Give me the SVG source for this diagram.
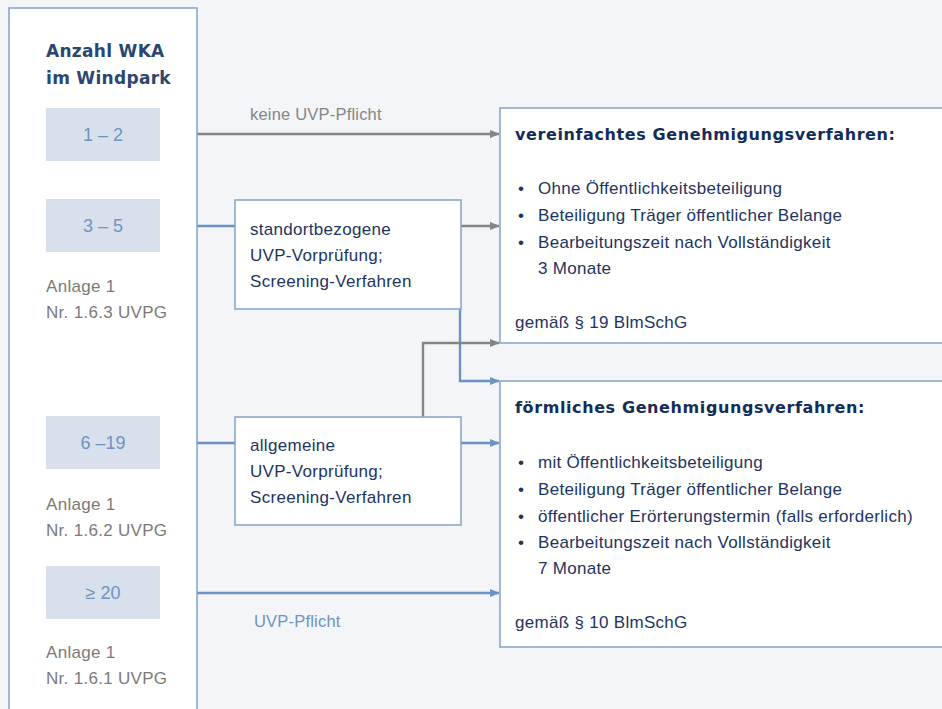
<svg xmlns="http://www.w3.org/2000/svg" width="942" height="709" viewBox="0 0 942 709">
<defs>
<marker id="ag" markerWidth="10" markerHeight="8" refX="9" refY="4" orient="auto" markerUnits="userSpaceOnUse"><path d="M0,0 L10,4 L0,8 z" fill="#858585"/></marker>
<marker id="ab" markerWidth="10" markerHeight="8" refX="9" refY="4" orient="auto" markerUnits="userSpaceOnUse"><path d="M0,0 L10,4 L0,8 z" fill="#6b93c3"/></marker>
<style>
text{font-family:"Liberation Sans",Arial,sans-serif}
.panel{fill:#ffffff;stroke:#8aa7cc;stroke-width:1.6}
.num{fill:#d8e0ec}
.numt{fill:#6f93c2;font-size:18px;text-anchor:middle}
.ref{fill:#7a7a7a;font-size:17px;letter-spacing:0.3px}
.head{fill:#2b4670;font-family:"DejaVu Sans",sans-serif;font-size:17px;font-weight:bold;letter-spacing:0.3px}
.box{fill:#ffffff;stroke:#8aa7cc;stroke-width:1.6}
.bt{fill:#1d3461;font-size:17px;letter-spacing:0.3px}
.title{fill:#142c58;font-family:"DejaVu Sans",sans-serif;font-size:16px;font-weight:bold;letter-spacing:0.6px}
.g{stroke:#858585;stroke-width:2.4;fill:none}
.b{stroke:#6b93c3;stroke-width:2.4;fill:none}
.lg{fill:#858585;font-size:16.5px;letter-spacing:0.2px}
.lb{fill:#6f93c2;font-size:16.5px;letter-spacing:0.2px}
</style>
</defs>
<rect width="942" height="709" fill="#f3f5f9"/>
<g id="connectors">
<path class="g" d="M197,134 H499" marker-end="url(#ag)"/>
<path class="b" d="M197,226 H235"/>
<path class="g" d="M461,226 H499" marker-end="url(#ag)"/>
<path class="b" d="M460,309 V381 H499" marker-end="url(#ab)"/>
<path class="g" d="M423,417 V343 H499" marker-end="url(#ag)"/>
<path class="b" d="M197,443 H235"/>
<path class="b" d="M461,443 H499" marker-end="url(#ab)"/>
<path class="b" d="M197,593 H499" marker-end="url(#ab)"/>
<text class="lg" x="250" y="120">keine UVP-Pflicht</text>
<text class="lb" x="254" y="627">UVP-Pflicht</text>
</g>
<g id="panel">
<rect class="panel" x="9" y="8" width="188" height="720"/>
<text class="head" x="46" y="57">Anzahl WKA</text>
<text class="head" x="46" y="84">im Windpark</text>
</g>
<g id="n12"><rect class="num" x="46" y="108" width="114" height="53"/><text class="numt" x="103" y="141">1 – 2</text></g>
<g id="n35"><rect class="num" x="46" y="199" width="114" height="53"/><text class="numt" x="103" y="232">3 – 5</text></g>
<g id="ref163"><text class="ref" x="46" y="292">Anlage 1</text><text class="ref" x="46" y="318">Nr. 1.6.3 UVPG</text></g>
<g id="n619"><rect class="num" x="46" y="416" width="114" height="53"/><text class="numt" x="103" y="449">6 –19</text></g>
<g id="ref162"><text class="ref" x="46" y="510">Anlage 1</text><text class="ref" x="46" y="536">Nr. 1.6.2 UVPG</text></g>
<g id="n20"><rect class="num" x="46" y="566" width="114" height="53"/><text class="numt" x="103" y="599">≥ 20</text></g>
<g id="ref161"><text class="ref" x="46" y="658">Anlage 1</text><text class="ref" x="46" y="684">Nr. 1.6.1 UVPG</text></g>
<g id="standort">
<rect class="box" x="235" y="200" width="226" height="109"/>
<text class="bt" x="250" y="235">standortbezogene</text>
<text class="bt" x="250" y="261">UVP-Vorprüfung;</text>
<text class="bt" x="250" y="287">Screening-Verfahren</text>
</g>
<g id="allgemein">
<rect class="box" x="235" y="417" width="226" height="108"/>
<text class="bt" x="250" y="451">allgemeine</text>
<text class="bt" x="250" y="477">UVP-Vorprüfung;</text>
<text class="bt" x="250" y="503">Screening-Verfahren</text>
</g>
<g id="vereinfacht">
<rect class="box" x="500" y="108" width="460" height="235"/>
<text class="title" x="515" y="140">vereinfachtes Genehmigungsverfahren:</text>
<text class="bt" x="518" y="194">•</text><text class="bt" x="538" y="194">Ohne Öffentlichkeitsbeteiligung</text>
<text class="bt" x="518" y="221">•</text><text class="bt" x="538" y="221">Beteiligung Träger öffentlicher Belange</text>
<text class="bt" x="518" y="248">•</text><text class="bt" x="538" y="248">Bearbeitungszeit nach Vollständigkeit</text>
<text class="bt" x="538" y="274">3 Monate</text>
<text class="bt" x="515" y="328">gemäß § 19 BlmSchG</text>
</g>
<g id="foermlich">
<rect class="box" x="500" y="381" width="460" height="266"/>
<text class="title" x="515" y="413">förmliches Genehmigungsverfahren:</text>
<text class="bt" x="518" y="468">•</text><text class="bt" x="538" y="468">mit Öffentlichkeitsbeteiligung</text>
<text class="bt" x="518" y="495">•</text><text class="bt" x="538" y="495">Beteiligung Träger öffentlicher Belange</text>
<text class="bt" x="518" y="522">•</text><text class="bt" x="538" y="522">öffentlicher Erörterungstermin (falls erforderlich)</text>
<text class="bt" x="518" y="548">•</text><text class="bt" x="538" y="548">Bearbeitungszeit nach Vollständigkeit</text>
<text class="bt" x="538" y="574">7 Monate</text>
<text class="bt" x="515" y="628">gemäß § 10 BlmSchG</text>
</g>
</svg>
